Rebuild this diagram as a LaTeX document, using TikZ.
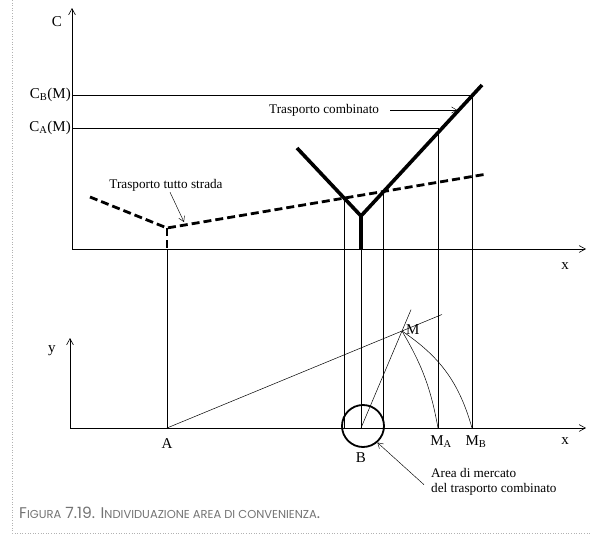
\documentclass[tikz,border=0pt]{standalone}
\usepackage{fontspec}
\setmainfont{Liberation Serif}
\newfontfamily\capfont{Poppins}
\usetikzlibrary{arrows.meta,positioning,calc}

\newcommand\smc[1]{{\fontsize{11.5}{13}\selectfont #1}}

\begin{document}
\begin{tikzpicture}[
    x=1pt, y=-1pt,
    axis/.style={-{Straight Barb[length=2.2mm, width=2.4mm]}, line width=0.6pt},
    guide/.style={line width=0.5pt},
    road/.style={line width=2.8pt, dash pattern=on 8pt off 4pt},
    combi/.style={line width=3.6pt},
    lbl/.style={font=\fontsize{15}{17}\selectfont, inner sep=1pt},
    note/.style={font=\fontsize{13.2}{15}\selectfont, inner sep=1pt, align=left},
    pointer/.style={-{Straight Barb[length=1.8mm, width=2.2mm]}, line width=0.45pt}
]
\useasboundingbox (0,0) rectangle (590,538);
\draw[gray!60, dotted, line width=0.6pt] (12,0) -- (12,533) -- (590,533);

% upper graph: costs
\coordinate (O1) at (72,249);
\coordinate (Cend) at (72,8);
\coordinate (X1end) at (586,249);
\draw[axis] (O1) -- (Cend);
\draw[axis] (O1) -- (X1end);
\node[lbl] (Clab) at (57,22) {C};
\node[lbl] (x1lab) at (565,266) {x};

\coordinate (CB) at (72,95);
\coordinate (CA) at (72,128);
\node[lbl, anchor=east] (CBlab) at (CB) {C\textsubscript{B}(M)};
\node[lbl, anchor=east] (CAlab) at (CA) {C\textsubscript{A}(M)};

\coordinate (rL) at (90,197);
\coordinate (rV) at (167,228);
\coordinate (rR) at (487,174);
\coordinate (cL) at (297,148);
\coordinate (cV) at (361,216);
\coordinate (cR) at (482,85);

% lower graph: territory
\coordinate (O2) at (70,428);
\coordinate (Yend) at (70,338);
\coordinate (X2end) at (586,428);
\coordinate (A) at (167,428);
\coordinate (B) at (361,428);
\coordinate (MA) at (438,428);
\coordinate (MB) at (472,428);
\coordinate (M) at (402,331);
\coordinate (iL) at (intersection of rV--rR and cL--cV);
\coordinate (iR) at (intersection of rV--rR and cV--cR);

\draw[guide] (rV |- O1) -- (A);
\draw[guide] (iL) -- (iL |- A);
\draw[guide] (cV |- O1) -- (B);
\draw[guide] (iR) -- (iR |- A);
\draw[guide] (CA) -- (MA |- CA) -- (MA);
\draw[guide] (CB) -- (MB |- CB) -- (MB);

\draw[road] (rL) -- (rV) -- (rR);
\draw[road] (rV) -- (rV |- O1);
\draw[combi] (cL) -- (cV) -- (cR);
\draw[combi] (cV) -- (cV |- O1);

\draw[axis] (O2) -- (Yend);
\draw[axis] (O2) -- (X2end);
\node[lbl] (ylab) at (52,351) {y};
\node[lbl] (x2lab) at (565,441) {x};

\draw[guide] (A) -- ($(A)!1.17!(M)$);
\draw[guide] (B) -- ($(B)!1.22!(M)$);
\draw[guide] (M) to[bend left=10] (MA);
\draw[guide] (M) to[bend left=20] (MB);
\node[draw, circle, line width=1.8pt, minimum size=42pt, inner sep=0pt] (area) at (363,426) {};

\node[lbl] (Alab) at (167,444) {A};
\node[lbl] (Blab) at (361,458) {B};
\node[lbl] (MAlab) at (441,442) {M\textsubscript{A}};
\node[lbl] (MBlab) at (476,442) {M\textsubscript{B}};
\node[lbl, anchor=west] (Mlab) at (405,330) {M};

% captions and pointers
\node[note, anchor=west] (combilab) at (268,110) {Trasporto combinato};
\coordinate (combiTip) at (457,110);
\draw[pointer] ([xshift=10pt]combilab.east) -- (combiTip);

\node[note] (roadlab) at (166,185) {Trasporto tutto strada};
\coordinate (roadTip) at (184,222);
\draw[pointer] ([xshift=4pt]roadlab.south) -- (roadTip);

\node[note, anchor=north west] (arealab) at (430,467) {Area di mercato\\del trasporto combinato};
\draw[pointer] ([xshift=-6pt, yshift=-3pt]arealab.west) -- (area.-49);

\node[anchor=west, inner sep=0pt, text=black!55, font=\capfont\fontsize{15.5}{17}\selectfont] (caption) at (19,513)
  {F\smc{IGURA} 7.19. I\smc{NDIVIDUAZIONE AREA DI CONVENIENZA}.};
\end{tikzpicture}
\end{document}
